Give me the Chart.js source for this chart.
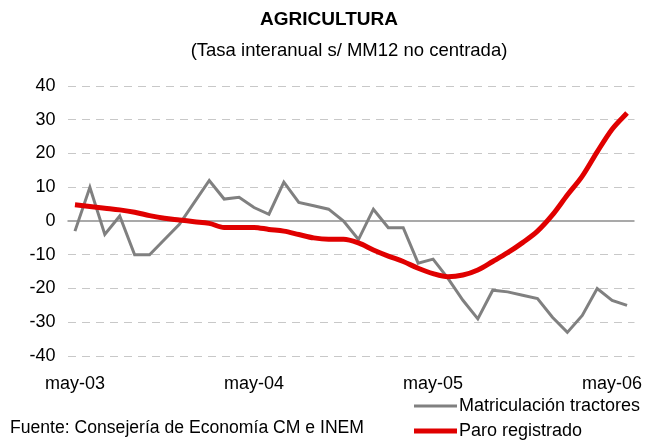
<!DOCTYPE html>
<html>
<head>
<meta charset="utf-8">
<script src="https://cdn.jsdelivr.net/npm/chart.js@4/dist/chart.umd.min.js"></script>
<style>
  html, body { margin: 0; padding: 0; background: #fff; }
  #wrap { position: relative; width: 649px; height: 441px; }
</style>
</head>
<body>
<div id="wrap"><canvas id="agri" width="649" height="441"></canvas></div>
<script>
// DATA
var meses = ["may-03","jun-03","jul-03","ago-03","sep-03","oct-03","nov-03","dic-03",
  "ene-04","feb-04","mar-04","abr-04","may-04","jun-04","jul-04","ago-04","sep-04","oct-04","nov-04","dic-04",
  "ene-05","feb-05","mar-05","abr-05","may-05","jun-05","jul-05","ago-05","sep-05","oct-05","nov-05","dic-05",
  "ene-06","feb-06","mar-06","abr-06","may-06","jun-06"];
var tractores = [-3, 10, -4, 1.5, -10, -10, -5.5, -1, 5.5, 12, 6.5, 7, 4, 2, 11.5, 5.5, 4.5, 3.5, 0, -5.5,
  3.5, -2, -2, -12.5, -11.3, -17, -23.5, -29, -20.5, -21, -22, -23, -28.5, -33, -28, -20, -23.5, -25];
var paro = [4.8, 4.3, 3.8, 3.3, 2.6, 1.6, 0.8, 0.3, -0.2, -0.7, -1.9, -1.9, -1.9, -2.5, -3, -4, -5, -5.4, -5.4, -6.5,
  -8.6, -10.4, -12, -14, -15.6, -16.5, -16, -14.5, -12, -9.4, -6.4, -3, 1.8, 7.7, 13.3, 20.5, 27.2, 32];
var yTicks = [-40, -30, -20, -10, 0, 10, 20, 30, 40];
var serieNames = ["Matriculación tractores", "Paro registrado"];
var serieColors = ["#808080", "#e00000"];

var FONT = "'Liberation Sans', Arial, sans-serif";

// titles, zero line, legend and source note
var extras = {
  id: "extras",
  beforeDatasetsDraw: function (chart) {
    var ctx = chart.ctx, a = chart.chartArea;
    var y0 = chart.scales.y.getPixelForValue(0);
    ctx.save();
    ctx.strokeStyle = "#8c8c8c";
    ctx.lineWidth = 1.5;
    ctx.beginPath();
    ctx.moveTo(a.left, y0);
    ctx.lineTo(a.right, y0);
    ctx.stroke();
    ctx.restore();
  },
  afterDraw: function (chart) {
    var ctx = chart.ctx;
    ctx.save();
    ctx.fillStyle = "#000";
    ctx.textBaseline = "middle";
    ctx.textAlign = "center";
    ctx.font = "bold 19px " + FONT;
    ctx.fillText("AGRICULTURA", 329, 20);
    ctx.font = "18.5px " + FONT;
    ctx.fillText("(Tasa interanual s/ MM12 no centrada)", 349, 51);

    ctx.textAlign = "left";
    ctx.font = "17.6px " + FONT;
    ctx.fillText("Fuente: Consejería de Economía CM e INEM", 10, 428);

    ctx.font = "18px " + FONT;
    var rows = [406, 431];
    for (var i = 0; i < serieNames.length; i++) {
      ctx.strokeStyle = serieColors[i];
      ctx.lineWidth = i === 0 ? 3 : 5;
      ctx.beginPath();
      ctx.moveTo(414, rows[i]);
      ctx.lineTo(457, rows[i]);
      ctx.stroke();
      ctx.fillText(serieNames[i], 459, rows[i]);
    }
    ctx.restore();
  }
};

new Chart("agri", {
  type: "line",
  data: {
    labels: meses,
    datasets: [
      {
        label: serieNames[0],
        data: tractores,
        borderColor: serieColors[0],
        borderWidth: 3,
        pointRadius: 0,
        tension: 0,
        order: 2
      },
      {
        label: serieNames[1],
        data: paro,
        borderColor: serieColors[1],
        borderWidth: 5,
        pointRadius: 0,
        tension: 0.3,
        cubicInterpolationMode: "monotone",
        order: 1
      }
    ]
  },
  options: {
    responsive: false,
    animation: false,
    layout: { padding: { top: 86, left: 0, right: 14.5, bottom: 40 } },
    plugins: {
      legend: { display: false },
      tooltip: { enabled: false }
    },
    scales: {
      x: {
        offset: true,
        grid: { display: false },
        border: { display: false },
        afterFit: function (s) { s.height = 45; s.paddingLeft = 0; s.paddingRight = 0; },
        ticks: {
          autoSkip: false,
          maxRotation: 0,
          padding: 9,
          color: "#000",
          font: { family: FONT, size: 18 },
          callback: function (v, i) { return i % 12 === 0 ? meses[i] : null; }
        }
      },
      y: {
        min: -40,
        max: 40,
        afterFit: function (s) { s.width = 67.5; },
        afterBuildTicks: function (s) { s.ticks = yTicks.map(function (v) { return { value: v }; }); },
        border: { display: false, dash: [8, 6] },
        grid: {
          drawTicks: false,
          lineWidth: 1,
          color: function (c) { return c.tick && c.tick.value === 0 ? "rgba(0,0,0,0)" : "#c8c8c8"; }
        },
        ticks: {
          padding: 12,
          color: "#000",
          font: { family: FONT, size: 18 }
        }
      }
    }
  },
  plugins: [extras]
});
</script>
</body>
</html>
